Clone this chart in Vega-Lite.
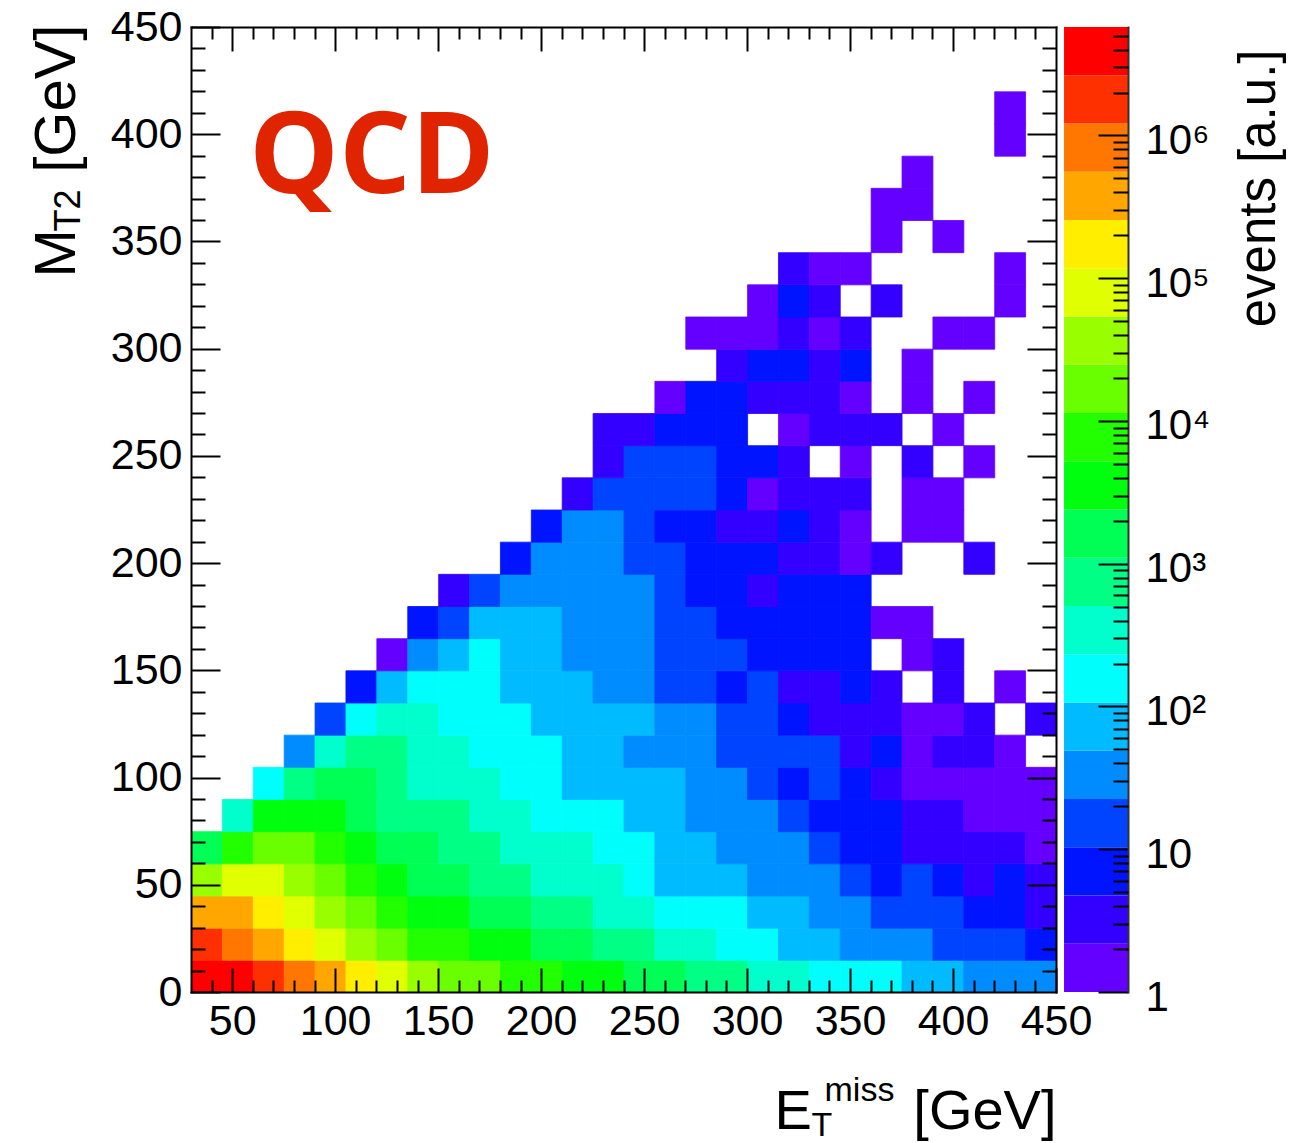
{
  "$schema": "https://vega.github.io/schema/vega-lite/v6.json",
  "background": "white",
  "autosize": {"type": "none"},
  "padding": {"left": 191, "top": 27, "right": 253, "bottom": 151},
  "width": 865,
  "height": 965,
  "config": {
    "font": "Liberation Sans",
    "view": {"stroke": null},
    "axis": {"grid": false, "domain": false, "tickColor": "black", "tickWidth": 2, "labelColor": "black", "titleColor": "black", "labelFlush": false, "labelOverlap": false, "titleFontWeight": "normal", "labelFont": "Liberation Sans", "titleFont": "Liberation Sans", "domainColor": "black", "domainWidth": 2, "domainCap": "square"}
  },
  "datasets": {
    "bands": [
      {"lo": 1, "hi": 2.178}, {"lo": 2.178, "hi": 4.742}, {"lo": 4.742, "hi": 10.33}, {"lo": 10.33, "hi": 22.49},
      {"lo": 22.49, "hi": 48.98}, {"lo": 48.98, "hi": 106.7}, {"lo": 106.7, "hi": 232.3}, {"lo": 232.3, "hi": 505.8},
      {"lo": 505.8, "hi": 1101.6}, {"lo": 1101.6, "hi": 2398.8}, {"lo": 2398.8, "hi": 5224}, {"lo": 5224, "hi": 11376},
      {"lo": 11376, "hi": 24774}, {"lo": 24774, "hi": 53951}, {"lo": 53951, "hi": 117490}, {"lo": 117490, "hi": 255859},
      {"lo": 255859, "hi": 557186}, {"lo": 557186, "hi": 1213389}, {"lo": 1213389, "hi": 2642409}, {"lo": 2642409, "hi": 5754399}
    ],
    "cells": [
      {"met":37.5,"mt2":7.5,"events":3900000},{"met":52.5,"mt2":7.5,"events":3900000},{"met":67.5,"mt2":7.5,"events":1790000},{"met":82.5,"mt2":7.5,"events":822000},{"met":97.5,"mt2":7.5,"events":378000},{"met":112.5,"mt2":7.5,"events":173000},{"met":127.5,"mt2":7.5,"events":79600},{"met":142.5,"mt2":7.5,"events":36600},{"met":157.5,"mt2":7.5,"events":16800},{"met":172.5,"mt2":7.5,"events":16800},{"met":187.5,"mt2":7.5,"events":7700},{"met":202.5,"mt2":7.5,"events":7700},{"met":217.5,"mt2":7.5,"events":3540},{"met":232.5,"mt2":7.5,"events":3540},{"met":247.5,"mt2":7.5,"events":1630},{"met":262.5,"mt2":7.5,"events":1630},{"met":277.5,"mt2":7.5,"events":750},{"met":292.5,"mt2":7.5,"events":750},{"met":307.5,"mt2":7.5,"events":343},{"met":322.5,"mt2":7.5,"events":343},{"met":337.5,"mt2":7.5,"events":157},{"met":352.5,"mt2":7.5,"events":157},{"met":367.5,"mt2":7.5,"events":157},{"met":382.5,"mt2":7.5,"events":72},{"met":397.5,"mt2":7.5,"events":72},{"met":412.5,"mt2":7.5,"events":33},{"met":427.5,"mt2":7.5,"events":33},{"met":442.5,"mt2":7.5,"events":33},
      {"met":37.5,"mt2":22.5,"events":1790000},{"met":52.5,"mt2":22.5,"events":822000},{"met":67.5,"mt2":22.5,"events":378000},{"met":82.5,"mt2":22.5,"events":173000},{"met":97.5,"mt2":22.5,"events":79600},{"met":112.5,"mt2":22.5,"events":36600},{"met":127.5,"mt2":22.5,"events":16800},{"met":142.5,"mt2":22.5,"events":7700},{"met":157.5,"mt2":22.5,"events":7700},{"met":172.5,"mt2":22.5,"events":3540},{"met":187.5,"mt2":22.5,"events":3540},{"met":202.5,"mt2":22.5,"events":1630},{"met":217.5,"mt2":22.5,"events":1630},{"met":232.5,"mt2":22.5,"events":750},{"met":247.5,"mt2":22.5,"events":750},{"met":262.5,"mt2":22.5,"events":343},{"met":277.5,"mt2":22.5,"events":343},{"met":292.5,"mt2":22.5,"events":157},{"met":307.5,"mt2":22.5,"events":157},{"met":322.5,"mt2":22.5,"events":72},{"met":337.5,"mt2":22.5,"events":72},{"met":352.5,"mt2":22.5,"events":33},{"met":367.5,"mt2":22.5,"events":33},{"met":382.5,"mt2":22.5,"events":33},{"met":397.5,"mt2":22.5,"events":15},{"met":412.5,"mt2":22.5,"events":15},{"met":427.5,"mt2":22.5,"events":15},{"met":442.5,"mt2":22.5,"events":7},
      {"met":37.5,"mt2":37.5,"events":378000},{"met":52.5,"mt2":37.5,"events":378000},{"met":67.5,"mt2":37.5,"events":173000},{"met":82.5,"mt2":37.5,"events":79600},{"met":97.5,"mt2":37.5,"events":36600},{"met":112.5,"mt2":37.5,"events":16800},{"met":127.5,"mt2":37.5,"events":7700},{"met":142.5,"mt2":37.5,"events":3540},{"met":157.5,"mt2":37.5,"events":3540},{"met":172.5,"mt2":37.5,"events":1630},{"met":187.5,"mt2":37.5,"events":1630},{"met":202.5,"mt2":37.5,"events":750},{"met":217.5,"mt2":37.5,"events":750},{"met":232.5,"mt2":37.5,"events":343},{"met":247.5,"mt2":37.5,"events":343},{"met":262.5,"mt2":37.5,"events":157},{"met":277.5,"mt2":37.5,"events":157},{"met":292.5,"mt2":37.5,"events":157},{"met":307.5,"mt2":37.5,"events":72},{"met":322.5,"mt2":37.5,"events":72},{"met":337.5,"mt2":37.5,"events":33},{"met":352.5,"mt2":37.5,"events":33},{"met":367.5,"mt2":37.5,"events":15},{"met":382.5,"mt2":37.5,"events":15},{"met":397.5,"mt2":37.5,"events":15},{"met":412.5,"mt2":37.5,"events":7},{"met":427.5,"mt2":37.5,"events":7},{"met":442.5,"mt2":37.5,"events":3.2},
      {"met":37.5,"mt2":52.5,"events":36600},{"met":52.5,"mt2":52.5,"events":79600},{"met":67.5,"mt2":52.5,"events":79600},{"met":82.5,"mt2":52.5,"events":36600},{"met":97.5,"mt2":52.5,"events":16800},{"met":112.5,"mt2":52.5,"events":7700},{"met":127.5,"mt2":52.5,"events":3540},{"met":142.5,"mt2":52.5,"events":1630},{"met":157.5,"mt2":52.5,"events":1630},{"met":172.5,"mt2":52.5,"events":750},{"met":187.5,"mt2":52.5,"events":750},{"met":202.5,"mt2":52.5,"events":343},{"met":217.5,"mt2":52.5,"events":343},{"met":232.5,"mt2":52.5,"events":343},{"met":247.5,"mt2":52.5,"events":157},{"met":262.5,"mt2":52.5,"events":72},{"met":277.5,"mt2":52.5,"events":72},{"met":292.5,"mt2":52.5,"events":72},{"met":307.5,"mt2":52.5,"events":33},{"met":322.5,"mt2":52.5,"events":33},{"met":337.5,"mt2":52.5,"events":33},{"met":352.5,"mt2":52.5,"events":15},{"met":367.5,"mt2":52.5,"events":7},{"met":382.5,"mt2":52.5,"events":15},{"met":397.5,"mt2":52.5,"events":7},{"met":412.5,"mt2":52.5,"events":3.2},{"met":427.5,"mt2":52.5,"events":7},{"met":442.5,"mt2":52.5,"events":3.2},
      {"met":37.5,"mt2":67.5,"events":1630},{"met":52.5,"mt2":67.5,"events":7700},{"met":67.5,"mt2":67.5,"events":16800},{"met":82.5,"mt2":67.5,"events":16800},{"met":97.5,"mt2":67.5,"events":7700},{"met":112.5,"mt2":67.5,"events":3540},{"met":127.5,"mt2":67.5,"events":1630},{"met":142.5,"mt2":67.5,"events":1630},{"met":157.5,"mt2":67.5,"events":750},{"met":172.5,"mt2":67.5,"events":750},{"met":187.5,"mt2":67.5,"events":343},{"met":202.5,"mt2":67.5,"events":343},{"met":217.5,"mt2":67.5,"events":343},{"met":232.5,"mt2":67.5,"events":157},{"met":247.5,"mt2":67.5,"events":157},{"met":262.5,"mt2":67.5,"events":72},{"met":277.5,"mt2":67.5,"events":72},{"met":292.5,"mt2":67.5,"events":33},{"met":307.5,"mt2":67.5,"events":33},{"met":322.5,"mt2":67.5,"events":33},{"met":337.5,"mt2":67.5,"events":15},{"met":352.5,"mt2":67.5,"events":7},{"met":367.5,"mt2":67.5,"events":7},{"met":382.5,"mt2":67.5,"events":3.2},{"met":397.5,"mt2":67.5,"events":3.2},{"met":412.5,"mt2":67.5,"events":3.2},{"met":427.5,"mt2":67.5,"events":3.2},{"met":442.5,"mt2":67.5,"events":1.5},
      {"met":52.5,"mt2":82.5,"events":343},{"met":67.5,"mt2":82.5,"events":3540},{"met":82.5,"mt2":82.5,"events":3540},{"met":97.5,"mt2":82.5,"events":3540},{"met":112.5,"mt2":82.5,"events":1630},{"met":127.5,"mt2":82.5,"events":750},{"met":142.5,"mt2":82.5,"events":750},{"met":157.5,"mt2":82.5,"events":750},{"met":172.5,"mt2":82.5,"events":343},{"met":187.5,"mt2":82.5,"events":343},{"met":202.5,"mt2":82.5,"events":157},{"met":217.5,"mt2":82.5,"events":157},{"met":232.5,"mt2":82.5,"events":157},{"met":247.5,"mt2":82.5,"events":72},{"met":262.5,"mt2":82.5,"events":72},{"met":277.5,"mt2":82.5,"events":33},{"met":292.5,"mt2":82.5,"events":33},{"met":307.5,"mt2":82.5,"events":33},{"met":322.5,"mt2":82.5,"events":15},{"met":337.5,"mt2":82.5,"events":7},{"met":352.5,"mt2":82.5,"events":7},{"met":367.5,"mt2":82.5,"events":7},{"met":382.5,"mt2":82.5,"events":3.2},{"met":397.5,"mt2":82.5,"events":3.2},{"met":412.5,"mt2":82.5,"events":1.5},{"met":427.5,"mt2":82.5,"events":1.5},{"met":442.5,"mt2":82.5,"events":1.5},
      {"met":67.5,"mt2":97.5,"events":157},{"met":82.5,"mt2":97.5,"events":750},{"met":97.5,"mt2":97.5,"events":1630},{"met":112.5,"mt2":97.5,"events":1630},{"met":127.5,"mt2":97.5,"events":750},{"met":142.5,"mt2":97.5,"events":343},{"met":157.5,"mt2":97.5,"events":343},{"met":172.5,"mt2":97.5,"events":343},{"met":187.5,"mt2":97.5,"events":157},{"met":202.5,"mt2":97.5,"events":157},{"met":217.5,"mt2":97.5,"events":72},{"met":232.5,"mt2":97.5,"events":72},{"met":247.5,"mt2":97.5,"events":72},{"met":262.5,"mt2":97.5,"events":72},{"met":277.5,"mt2":97.5,"events":33},{"met":292.5,"mt2":97.5,"events":33},{"met":307.5,"mt2":97.5,"events":15},{"met":322.5,"mt2":97.5,"events":7},{"met":337.5,"mt2":97.5,"events":15},{"met":352.5,"mt2":97.5,"events":7},{"met":367.5,"mt2":97.5,"events":3.2},{"met":382.5,"mt2":97.5,"events":1.5},{"met":397.5,"mt2":97.5,"events":1.5},{"met":412.5,"mt2":97.5,"events":1.5},{"met":427.5,"mt2":97.5,"events":1.5},{"met":442.5,"mt2":97.5,"events":1.5},
      {"met":82.5,"mt2":112.5,"events":33},{"met":97.5,"mt2":112.5,"events":343},{"met":112.5,"mt2":112.5,"events":750},{"met":127.5,"mt2":112.5,"events":750},{"met":142.5,"mt2":112.5,"events":343},{"met":157.5,"mt2":112.5,"events":343},{"met":172.5,"mt2":112.5,"events":157},{"met":187.5,"mt2":112.5,"events":157},{"met":202.5,"mt2":112.5,"events":157},{"met":217.5,"mt2":112.5,"events":72},{"met":232.5,"mt2":112.5,"events":72},{"met":247.5,"mt2":112.5,"events":33},{"met":262.5,"mt2":112.5,"events":33},{"met":277.5,"mt2":112.5,"events":33},{"met":292.5,"mt2":112.5,"events":15},{"met":307.5,"mt2":112.5,"events":15},{"met":322.5,"mt2":112.5,"events":15},{"met":337.5,"mt2":112.5,"events":15},{"met":352.5,"mt2":112.5,"events":3.2},{"met":367.5,"mt2":112.5,"events":7},{"met":382.5,"mt2":112.5,"events":1.5},{"met":397.5,"mt2":112.5,"events":3.2},{"met":412.5,"mt2":112.5,"events":3.2},{"met":427.5,"mt2":112.5,"events":1.5},
      {"met":97.5,"mt2":127.5,"events":15},{"met":112.5,"mt2":127.5,"events":157},{"met":127.5,"mt2":127.5,"events":343},{"met":142.5,"mt2":127.5,"events":343},{"met":157.5,"mt2":127.5,"events":157},{"met":172.5,"mt2":127.5,"events":157},{"met":187.5,"mt2":127.5,"events":157},{"met":202.5,"mt2":127.5,"events":72},{"met":217.5,"mt2":127.5,"events":72},{"met":232.5,"mt2":127.5,"events":72},{"met":247.5,"mt2":127.5,"events":72},{"met":262.5,"mt2":127.5,"events":33},{"met":277.5,"mt2":127.5,"events":33},{"met":292.5,"mt2":127.5,"events":15},{"met":307.5,"mt2":127.5,"events":15},{"met":322.5,"mt2":127.5,"events":7},{"met":337.5,"mt2":127.5,"events":3.2},{"met":352.5,"mt2":127.5,"events":3.2},{"met":367.5,"mt2":127.5,"events":3.2},{"met":382.5,"mt2":127.5,"events":1.5},{"met":397.5,"mt2":127.5,"events":1.5},{"met":412.5,"mt2":127.5,"events":3.2},{"met":442.5,"mt2":127.5,"events":3.2},
      {"met":112.5,"mt2":142.5,"events":7},{"met":127.5,"mt2":142.5,"events":72},{"met":142.5,"mt2":142.5,"events":157},{"met":157.5,"mt2":142.5,"events":157},{"met":172.5,"mt2":142.5,"events":157},{"met":187.5,"mt2":142.5,"events":72},{"met":202.5,"mt2":142.5,"events":72},{"met":217.5,"mt2":142.5,"events":72},{"met":232.5,"mt2":142.5,"events":33},{"met":247.5,"mt2":142.5,"events":33},{"met":262.5,"mt2":142.5,"events":15},{"met":277.5,"mt2":142.5,"events":15},{"met":292.5,"mt2":142.5,"events":7},{"met":307.5,"mt2":142.5,"events":15},{"met":322.5,"mt2":142.5,"events":3.2},{"met":337.5,"mt2":142.5,"events":3.2},{"met":352.5,"mt2":142.5,"events":7},{"met":367.5,"mt2":142.5,"events":3.2},{"met":397.5,"mt2":142.5,"events":3.2},{"met":427.5,"mt2":142.5,"events":1.5},
      {"met":127.5,"mt2":157.5,"events":1.5},{"met":142.5,"mt2":157.5,"events":33},{"met":157.5,"mt2":157.5,"events":72},{"met":172.5,"mt2":157.5,"events":157},{"met":187.5,"mt2":157.5,"events":72},{"met":202.5,"mt2":157.5,"events":72},{"met":217.5,"mt2":157.5,"events":33},{"met":232.5,"mt2":157.5,"events":33},{"met":247.5,"mt2":157.5,"events":33},{"met":262.5,"mt2":157.5,"events":15},{"met":277.5,"mt2":157.5,"events":15},{"met":292.5,"mt2":157.5,"events":15},{"met":307.5,"mt2":157.5,"events":7},{"met":322.5,"mt2":157.5,"events":7},{"met":337.5,"mt2":157.5,"events":7},{"met":352.5,"mt2":157.5,"events":7},{"met":382.5,"mt2":157.5,"events":1.5},{"met":397.5,"mt2":157.5,"events":3.2},
      {"met":142.5,"mt2":172.5,"events":7},{"met":157.5,"mt2":172.5,"events":15},{"met":172.5,"mt2":172.5,"events":72},{"met":187.5,"mt2":172.5,"events":72},{"met":202.5,"mt2":172.5,"events":72},{"met":217.5,"mt2":172.5,"events":33},{"met":232.5,"mt2":172.5,"events":33},{"met":247.5,"mt2":172.5,"events":33},{"met":262.5,"mt2":172.5,"events":15},{"met":277.5,"mt2":172.5,"events":15},{"met":292.5,"mt2":172.5,"events":7},{"met":307.5,"mt2":172.5,"events":7},{"met":322.5,"mt2":172.5,"events":7},{"met":337.5,"mt2":172.5,"events":7},{"met":352.5,"mt2":172.5,"events":7},{"met":367.5,"mt2":172.5,"events":1.5},{"met":382.5,"mt2":172.5,"events":1.5},
      {"met":157.5,"mt2":187.5,"events":3.2},{"met":172.5,"mt2":187.5,"events":15},{"met":187.5,"mt2":187.5,"events":33},{"met":202.5,"mt2":187.5,"events":33},{"met":217.5,"mt2":187.5,"events":33},{"met":232.5,"mt2":187.5,"events":33},{"met":247.5,"mt2":187.5,"events":33},{"met":262.5,"mt2":187.5,"events":15},{"met":277.5,"mt2":187.5,"events":7},{"met":292.5,"mt2":187.5,"events":7},{"met":307.5,"mt2":187.5,"events":3.2},{"met":322.5,"mt2":187.5,"events":7},{"met":337.5,"mt2":187.5,"events":7},{"met":352.5,"mt2":187.5,"events":7},
      {"met":187.5,"mt2":202.5,"events":7},{"met":202.5,"mt2":202.5,"events":33},{"met":217.5,"mt2":202.5,"events":33},{"met":232.5,"mt2":202.5,"events":33},{"met":247.5,"mt2":202.5,"events":15},{"met":262.5,"mt2":202.5,"events":15},{"met":277.5,"mt2":202.5,"events":7},{"met":292.5,"mt2":202.5,"events":7},{"met":307.5,"mt2":202.5,"events":7},{"met":322.5,"mt2":202.5,"events":3.2},{"met":337.5,"mt2":202.5,"events":3.2},{"met":352.5,"mt2":202.5,"events":1.5},{"met":367.5,"mt2":202.5,"events":3.2},{"met":412.5,"mt2":202.5,"events":3.2},
      {"met":202.5,"mt2":217.5,"events":7},{"met":217.5,"mt2":217.5,"events":33},{"met":232.5,"mt2":217.5,"events":33},{"met":247.5,"mt2":217.5,"events":15},{"met":262.5,"mt2":217.5,"events":7},{"met":277.5,"mt2":217.5,"events":7},{"met":292.5,"mt2":217.5,"events":3.2},{"met":307.5,"mt2":217.5,"events":3.2},{"met":322.5,"mt2":217.5,"events":7},{"met":337.5,"mt2":217.5,"events":3.2},{"met":352.5,"mt2":217.5,"events":1.5},{"met":382.5,"mt2":217.5,"events":1.5},{"met":397.5,"mt2":217.5,"events":1.5},
      {"met":217.5,"mt2":232.5,"events":3.2},{"met":232.5,"mt2":232.5,"events":15},{"met":247.5,"mt2":232.5,"events":15},{"met":262.5,"mt2":232.5,"events":15},{"met":277.5,"mt2":232.5,"events":15},{"met":292.5,"mt2":232.5,"events":7},{"met":307.5,"mt2":232.5,"events":1.5},{"met":322.5,"mt2":232.5,"events":3.2},{"met":337.5,"mt2":232.5,"events":3.2},{"met":352.5,"mt2":232.5,"events":3.2},{"met":382.5,"mt2":232.5,"events":1.5},{"met":397.5,"mt2":232.5,"events":1.5},
      {"met":232.5,"mt2":247.5,"events":3.2},{"met":247.5,"mt2":247.5,"events":15},{"met":262.5,"mt2":247.5,"events":15},{"met":277.5,"mt2":247.5,"events":15},{"met":292.5,"mt2":247.5,"events":7},{"met":307.5,"mt2":247.5,"events":7},{"met":322.5,"mt2":247.5,"events":3.2},{"met":352.5,"mt2":247.5,"events":1.5},{"met":382.5,"mt2":247.5,"events":3.2},{"met":412.5,"mt2":247.5,"events":1.5},
      {"met":232.5,"mt2":262.5,"events":3.2},{"met":247.5,"mt2":262.5,"events":3.2},{"met":262.5,"mt2":262.5,"events":7},{"met":277.5,"mt2":262.5,"events":7},{"met":292.5,"mt2":262.5,"events":7},{"met":322.5,"mt2":262.5,"events":1.5},{"met":337.5,"mt2":262.5,"events":3.2},{"met":352.5,"mt2":262.5,"events":3.2},{"met":367.5,"mt2":262.5,"events":3.2},{"met":397.5,"mt2":262.5,"events":1.5},
      {"met":262.5,"mt2":277.5,"events":1.5},{"met":277.5,"mt2":277.5,"events":7},{"met":292.5,"mt2":277.5,"events":7},{"met":307.5,"mt2":277.5,"events":3.2},{"met":322.5,"mt2":277.5,"events":3.2},{"met":337.5,"mt2":277.5,"events":3.2},{"met":352.5,"mt2":277.5,"events":1.5},{"met":382.5,"mt2":277.5,"events":1.5},{"met":412.5,"mt2":277.5,"events":1.5},
      {"met":292.5,"mt2":292.5,"events":3.2},{"met":307.5,"mt2":292.5,"events":7},{"met":322.5,"mt2":292.5,"events":7},{"met":337.5,"mt2":292.5,"events":3.2},{"met":352.5,"mt2":292.5,"events":7},{"met":382.5,"mt2":292.5,"events":1.5},
      {"met":277.5,"mt2":307.5,"events":1.5},{"met":292.5,"mt2":307.5,"events":1.5},{"met":307.5,"mt2":307.5,"events":1.5},{"met":322.5,"mt2":307.5,"events":3.2},{"met":337.5,"mt2":307.5,"events":1.5},{"met":352.5,"mt2":307.5,"events":3.2},{"met":397.5,"mt2":307.5,"events":1.5},{"met":412.5,"mt2":307.5,"events":1.5},
      {"met":307.5,"mt2":322.5,"events":1.5},{"met":322.5,"mt2":322.5,"events":7},{"met":337.5,"mt2":322.5,"events":3.2},{"met":367.5,"mt2":322.5,"events":3.2},{"met":427.5,"mt2":322.5,"events":1.5},
      {"met":322.5,"mt2":337.5,"events":3.2},{"met":337.5,"mt2":337.5,"events":1.5},{"met":352.5,"mt2":337.5,"events":1.5},{"met":427.5,"mt2":337.5,"events":1.5},
      {"met":367.5,"mt2":352.5,"events":1.5},{"met":397.5,"mt2":352.5,"events":1.5},
      {"met":367.5,"mt2":367.5,"events":1.5},{"met":382.5,"mt2":367.5,"events":1.5},
      {"met":382.5,"mt2":382.5,"events":1.5},
      {"met":427.5,"mt2":397.5,"events":1.5},
      {"met":427.5,"mt2":412.5,"events":1.5}
    ]
  },
  "data": {"name": "cells"},
  "resolve": {"scale": {"y": "independent"}, "axis": {"x": "independent", "y": "independent"}},
  "layer": [
    {
      "mark": {"type": "rect", "strokeWidth": 0.8, "binSpacing": 0},
      "encoding": {
        "x": {"field": "met", "type": "quantitative", "bin": {"extent": [30, 450], "step": 15},
          "scale": {"domain": [30, 450], "nice": false, "zero": false},
          "axis": {"orient": "bottom", "zindex": 1, "values": [50, 100, 150, 200, 250, 300, 350, 400, 450], "tickSize": -24, "labelFontSize": 43, "labelPadding": 32, "labelBaseline": "top", "labelAlign": "center", "domain": true,
            "title": "E", "titleFontSize": 56, "titleAngle": 0, "titleAlign": "left", "titleBaseline": "alphabetic", "titleX": 583, "titleY": 136}},
        "y": {"field": "mt2", "type": "quantitative", "bin": {"extent": [0, 450], "step": 15},
          "scale": {"domain": [0, 450], "nice": false, "zero": false},
          "axis": {"orient": "left", "zindex": 1, "values": [0, 50, 100, 150, 200, 250, 300, 350, 400, 450], "tickSize": -29, "labelFontSize": 43, "labelPadding": 38, "labelAlign": "right", "labelBaseline": "middle", "domain": true,
            "title": "M", "titleFontSize": 58, "titleAngle": 270, "titleAlign": "left", "titleBaseline": "alphabetic", "titleX": -117, "titleY": 250}},
        "color": {"field": "events", "type": "quantitative", "legend": null,
          "scale": {"type": "threshold", "domain": [2.178, 4.742, 10.33, 22.49, 48.98, 106.7, 232.3, 505.8, 1101.6, 2398.8, 5224, 11376, 24774, 53951, 117490, 255859, 557186, 1213389, 2642409],
            "range": ["#6300FF", "#3300FF", "#0014FF", "#0044FF", "#008BFF", "#00BBFF", "#00FFFC", "#00FFCC", "#00FF85", "#00FF55", "#00FF0E", "#22FF00", "#69FF00", "#99FF00", "#E0FF00", "#FFEE00", "#FFA700", "#FF7700", "#FF3000", "#FF0000"]}},
        "stroke": {"field": "events", "type": "quantitative", "legend": null,
          "scale": {"type": "threshold", "domain": [2.178, 4.742, 10.33, 22.49, 48.98, 106.7, 232.3, 505.8, 1101.6, 2398.8, 5224, 11376, 24774, 53951, 117490, 255859, 557186, 1213389, 2642409],
            "range": ["#6300FF", "#3300FF", "#0014FF", "#0044FF", "#008BFF", "#00BBFF", "#00FFFC", "#00FFCC", "#00FF85", "#00FF55", "#00FF0E", "#22FF00", "#69FF00", "#99FF00", "#E0FF00", "#FFEE00", "#FFA700", "#FF7700", "#FF3000", "#FF0000"]}}
      }
    },
    {
      "mark": {"type": "point", "opacity": 0},
      "encoding": {
        "x": {"field": "met", "type": "quantitative", "scale": {"domain": [30, 450], "nice": false, "zero": false},
          "axis": {"orient": "bottom", "zindex": 1, "values": [40, 60, 70, 80, 90, 110, 120, 130, 140, 160, 170, 180, 190, 210, 220, 230, 240, 260, 270, 280, 290, 310, 320, 330, 340, 360, 370, 380, 390, 410, 420, 430, 440], "tickSize": -12, "labels": false,
            "title": "T", "titleFontSize": 34, "titleAngle": 0, "titleAlign": "left", "titleBaseline": "alphabetic", "titleX": 620, "titleY": 143}},
        "y": {"field": "mt2", "type": "quantitative", "scale": {"domain": [0, 450], "nice": false, "zero": false},
          "axis": {"orient": "left", "zindex": 1, "values": [10, 20, 30, 40, 60, 70, 80, 90, 110, 120, 130, 140, 160, 170, 180, 190, 210, 220, 230, 240, 260, 270, 280, 290, 310, 320, 330, 340, 360, 370, 380, 390, 410, 420, 430, 440], "tickSize": -14, "labels": false,
            "title": "T2", "titleFontSize": 36, "titleAngle": 270, "titleAlign": "left", "titleBaseline": "alphabetic", "titleX": -112, "titleY": 204}}
      }
    },
    {
      "mark": {"type": "point", "opacity": 0},
      "encoding": {
        "x": {"field": "met", "type": "quantitative", "scale": {"domain": [30, 450], "nice": false, "zero": false},
          "axis": {"orient": "top", "zindex": 1, "values": [50, 100, 150, 200, 250, 300, 350, 400], "tickSize": -24, "labels": false,
            "title": "miss", "titleFontSize": 34, "titleAngle": 0, "titleAlign": "left", "titleBaseline": "alphabetic", "titleX": 633, "titleY": 1073}},
        "y": {"field": "mt2", "type": "quantitative", "scale": {"domain": [0, 450], "nice": false, "zero": false},
          "axis": {"orient": "left", "zindex": 1, "ticks": false, "labels": false,
            "title": "[GeV]", "titleFontSize": 58, "titleAngle": 270, "titleAlign": "right", "titleBaseline": "alphabetic", "titleX": -117, "titleY": -3}}
      }
    },
    {
      "mark": {"type": "point", "opacity": 0},
      "encoding": {
        "x": {"field": "met", "type": "quantitative", "scale": {"domain": [30, 450], "nice": false, "zero": false},
          "axis": {"orient": "top", "zindex": 1, "values": [40, 60, 70, 80, 90, 110, 120, 130, 140, 160, 170, 180, 190, 210, 220, 230, 240, 260, 270, 280, 290, 310, 320, 330, 340, 360, 370, 380, 390, 410, 420, 430, 440], "tickSize": -12, "labels": false, "domain": true,
            "title": "[GeV]", "titleFontSize": 56, "titleAngle": 0, "titleAlign": "right", "titleBaseline": "alphabetic", "titleX": 865, "titleY": 1101}},
        "y": {"field": "mt2", "type": "quantitative", "scale": {"domain": [0, 450], "nice": false, "zero": false},
          "axis": {"orient": "right", "zindex": 1, "values": [50, 100, 150, 200, 250, 300, 350, 400], "tickSize": -29, "labels": false, "domain": true, "title": null}}
      }
    },
    {
      "mark": {"type": "point", "opacity": 0},
      "encoding": {
        "x": {"field": "met", "type": "quantitative", "scale": {"domain": [30, 450], "nice": false, "zero": false}, "axis": null},
        "y": {"field": "mt2", "type": "quantitative", "scale": {"domain": [0, 450], "nice": false, "zero": false},
          "axis": {"orient": "right", "zindex": 1, "values": [10, 20, 30, 40, 60, 70, 80, 90, 110, 120, 130, 140, 160, 170, 180, 190, 210, 220, 230, 240, 260, 270, 280, 290, 310, 320, 330, 340, 360, 370, 380, 390, 410, 420, 430, 440], "tickSize": -14, "labels": false, "title": null}}
      }
    },
    {
      "data": {"values": [{"label": "QCD"}]},
      "mark": {"type": "text", "font": "Open Sans", "fontWeight": "bold", "fontSize": 113, "color": "#E12400", "align": "left", "baseline": "alphabetic"},
      "encoding": {
        "text": {"field": "label"},
        "x": {"datum": 58.2, "type": "quantitative", "scale": {"domain": [30, 450], "nice": false, "zero": false}, "axis": null},
        "y": {"datum": 372.5, "type": "quantitative", "scale": {"domain": [0, 450], "nice": false, "zero": false}, "axis": null}
      }
    },
    {
      "data": {"name": "bands"},
      "mark": {"type": "rect"},
      "encoding": {
        "x": {"datum": 453.9, "type": "quantitative", "scale": {"domain": [30, 450], "nice": false, "zero": false}, "axis": null},
        "x2": {"datum": 485},
        "y": {"field": "lo", "type": "quantitative",
          "scale": {"type": "log", "domain": [1, 5754399], "nice": false},
          "axis": {"orient": "right", "offset": 72, "zindex": 1, "values": [1, 10, 100, 1000, 10000, 100000, 1000000], "tickSize": -30, "labelFontSize": 42, "labelPadding": 47, "labelOffset": 5, "labelAlign": "left", "labelBaseline": "middle",
            "labelExpr": "datum.value < 5 ? '1' : datum.value < 50 ? '10' : datum.value < 500 ? '10²' : datum.value < 5000 ? '10³' : datum.value < 50000 ? '10⁴' : datum.value < 500000 ? '10⁵' : '10⁶'",
            "domain": true, "domainColor": "#333333",
            "title": "events [a.u.]", "titleFontSize": 51, "titleAngle": 270, "titleAlign": "right", "titleBaseline": "alphabetic", "titleX": 146, "titleY": 22}},
        "y2": {"field": "hi"},
        "color": {"field": "lo", "type": "quantitative", "legend": null,
          "scale": {"type": "threshold", "domain": [2.178, 4.742, 10.33, 22.49, 48.98, 106.7, 232.3, 505.8, 1101.6, 2398.8, 5224, 11376, 24774, 53951, 117490, 255859, 557186, 1213389, 2642409],
            "range": ["#6300FF", "#3300FF", "#0014FF", "#0044FF", "#008BFF", "#00BBFF", "#00FFFC", "#00FFCC", "#00FF85", "#00FF55", "#00FF0E", "#22FF00", "#69FF00", "#99FF00", "#E0FF00", "#FFEE00", "#FFA700", "#FF7700", "#FF3000", "#FF0000"]}}
      }
    },
    {
      "data": {"name": "bands"},
      "mark": {"type": "point", "opacity": 0},
      "encoding": {
        "x": {"datum": 470, "type": "quantitative", "scale": {"domain": [30, 450], "nice": false, "zero": false}, "axis": null},
        "y": {"field": "lo", "type": "quantitative",
          "scale": {"type": "log", "domain": [1, 5754399], "nice": false},
          "axis": {"orient": "right", "offset": 72, "zindex": 1, "values": [2, 3, 4, 5, 6, 7, 8, 9, 20, 30, 40, 50, 60, 70, 80, 90, 200, 300, 400, 500, 600, 700, 800, 900, 2000, 3000, 4000, 5000, 6000, 7000, 8000, 9000, 20000, 30000, 40000, 50000, 60000, 70000, 80000, 90000, 200000, 300000, 400000, 500000, 600000, 700000, 800000, 900000, 2000000, 3000000, 4000000, 5000000], "tickSize": -15, "labels": false, "title": null}}
      }
    }
  ]
}
